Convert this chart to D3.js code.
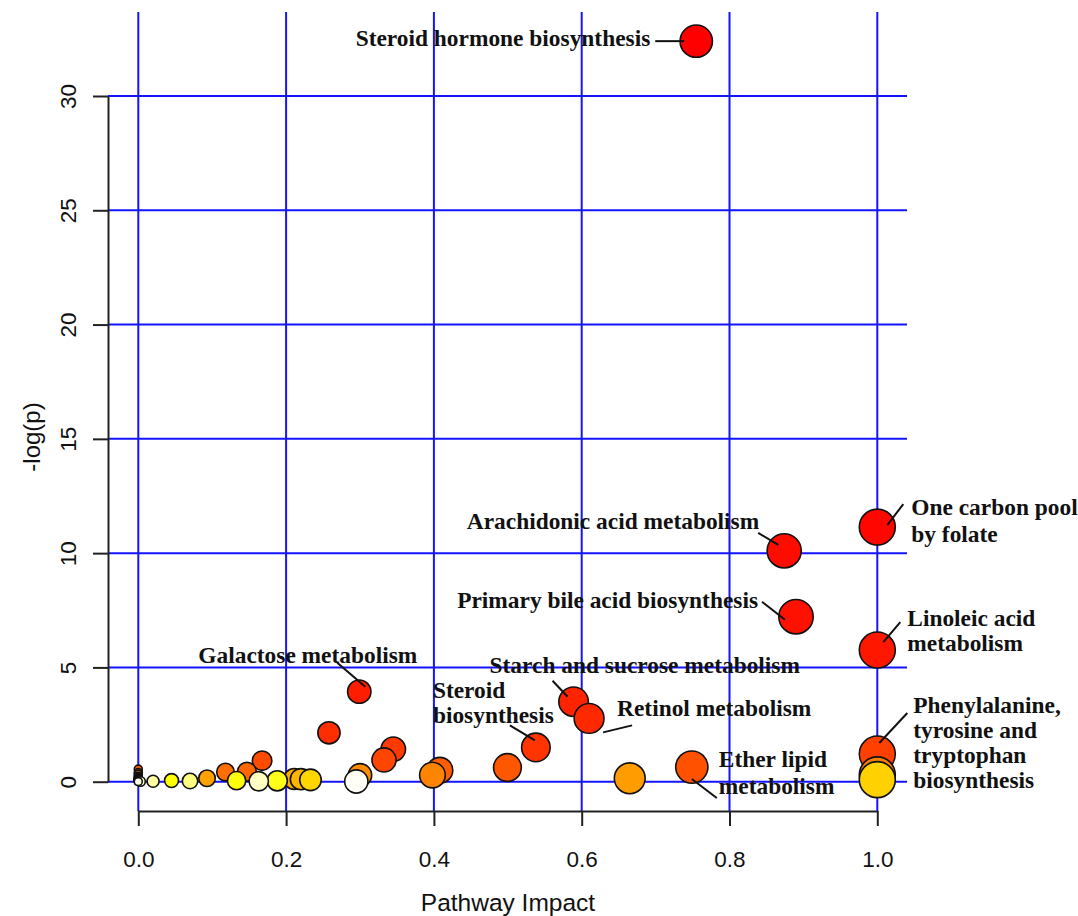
<!DOCTYPE html>
<html>
<head>
<meta charset="utf-8">
<script src="https://cdn.jsdelivr.net/npm/d3@7"></script>
<style>
  body { margin: 0; background: #fff; }
  svg text { fill: #111; }
</style>
</head>
<body>
<svg id="chart" width="1078" height="916"></svg>
<script>
// Pathway analysis results, ordered from most to least significant
const impact = [
  0.755, 1.0, 0.874, 0.890, 1.0, 0.299, 0.589, 0.610, 0.258, 0.538,
  0.345, 1.0, 0.3325, 0.1675, 0.749, 0.4995, 0.408, 0.0, 0.147, 0.118,
  0.0, 0.0, 1.0, 0.398, 0.30, 0.0, 0.0, 0.665, 0.093, 0.0,
  0.211, 0.22, 0.0, 0.0, 0.0, 0.0, 1.0, 0.233, 0.0, 0.0,
  0.0, 0.0, 0.0, 0.0, 0.045, 0.133, 0.188, 0.0, 0.0, 0.0,
  0.0, 0.0, 0.07, 0.0, 0.02, 0.0, 0.163, 0.003, 0.0, 0.295
];
const negLogP = [
  32.4, 11.14, 10.1, 7.22, 5.76, 3.94, 3.5, 2.77, 2.14, 1.50,
  1.42, 1.21, 0.95, 0.92, 0.64, 0.62, 0.50, 0.55, 0.44, 0.42,
  0.40, 0.33, 0.30, 0.29, 0.28, 0.24, 0.20, 0.15, 0.15, 0.14,
  0.12, 0.11, 0.11, 0.105, 0.10, 0.10, 0.09, 0.08, 0.08, 0.07,
  0.07, 0.06, 0.05, 0.05, 0.05, 0.045, 0.04, 0.04, 0.035, 0.03,
  0.03, 0.03, 0.03, 0.025, 0.02, 0.02, 0.02, 0.01, 0.005, 0.01
];
const xTicks = [0, 0.2, 0.4, 0.6, 0.8, 1.0];
const yTicks = [0, 5, 10, 15, 20, 25, 30];

// Named pathways and the row they belong to
const labelIndex = [0, 1, 2, 3, 4, 5, 6, 7, 9, 11, 14];
const labelText = [
  ["Steroid hormone biosynthesis"],
  ["One carbon pool", "by folate"],
  ["Arachidonic acid metabolism"],
  ["Primary bile acid biosynthesis"],
  ["Linoleic acid", "metabolism"],
  ["Galactose metabolism"],
  ["Starch and sucrose metabolism"],
  ["Retinol metabolism"],
  ["Steroid", "biosynthesis"],
  ["Phenylalanine,", "tyrosine and", "tryptophan", "biosynthesis"],
  ["Ether lipid", "metabolism"]
];

// Label placement relative to each point (pixels): text anchor, baseline offset, leader line
const labelLayout = [
  { dx: -46, dy: 5,   anchor: "end",   lh: 25,   lead: [-41, 0, -12, 0] },
  { dx: 34,  dy: -12, anchor: "start", lh: 26.7, lead: [26, -23, 10, -2] },
  { dx: -25, dy: -22, anchor: "end",   lh: 25,   lead: [-26, -18, -6, -6] },
  { dx: -38, dy: -9,  anchor: "end",   lh: 25,   lead: [-34, -15, -11, 3] },
  { dx: 30,  dy: -24, anchor: "start", lh: 25,   lead: [23, -28, 6, -8] },
  { dx: 58,  dy: -29, anchor: "end",   lh: 25,   lead: [-22, -29, 6, -5] },
  { dx: -84, dy: -29, anchor: "start", lh: 25,   lead: [-21, -21, -6, -5] },
  { dx: 28,  dy: -2,  anchor: "start", lh: 25,   lead: [14, 14, 43, 7] },
  { dx: -103, dy: -49, anchor: "start", lh: 25,  lead: [-26, -22, -1, -7] },
  { dx: 36,  dy: -41, anchor: "start", lh: 25,   lead: [30, -41, 2, -11] },
  { dx: 27,  dy: 0,   anchor: "start", lh: 26.6, lead: [0, 12, 25, 31] }
];

// R-style heat.colors: red -> yellow, then yellow -> white
function heatColors(n) {
  const j = Math.floor(n / 4), i = n - j, out = [];
  for (let k = 0; k < i; k++) {
    const h = i > 1 ? (k / (i - 1)) * 60 : 0;
    out.push(d3.hsl(h, 1, 0.5).formatHex());
  }
  for (let k = 0; k < j; k++) {
    const s0 = 1 - 1 / (2 * j), s1 = 1 / (2 * j);
    const s = j > 1 ? s0 + (s1 - s0) * k / (j - 1) : s0;
    // hsv(1/6, s, 1) -> rgb
    out.push(d3.rgb(255, 255, Math.round(255 * (1 - s))).formatHex());
  }
  return out;
}

const svg = d3.select("#chart");
const x = d3.scaleLinear().domain([0, 1]).range([138.3, 877.3]);
const y = d3.scaleLinear().domain([0, 30]).range([781.7, 96]);
const r = d3.scaleSqrt().domain([0, 1]).range([4, 18]);

const axisY0 = 811, axisX0 = 108;
const gridColor = "#1414ff";

// grid
svg.append("g").selectAll("line").data(xTicks).join("line")
  .attr("x1", d => x(d)).attr("x2", d => x(d))
  .attr("y1", 12).attr("y2", axisY0)
  .attr("stroke", gridColor).attr("stroke-width", 2);
svg.append("g").selectAll("line").data(yTicks).join("line")
  .attr("x1", axisX0).attr("x2", 907)
  .attr("y1", d => y(d)).attr("y2", d => y(d))
  .attr("stroke", gridColor).attr("stroke-width", 2);

// axes
const xAxis = svg.append("g").attr("transform", `translate(0,${axisY0})`)
  .call(d3.axisBottom(x).tickValues(xTicks).tickFormat(d3.format(".1f"))
    .tickSize(15).tickSizeOuter(0).tickPadding(25));
const yAxis = svg.append("g").attr("transform", `translate(${axisX0},0)`)
  .call(d3.axisLeft(y).tickValues(yTicks).tickFormat(d3.format("d"))
    .tickSize(15).tickSizeOuter(0));
yAxis.selectAll(".tick text")
  .attr("x", null).attr("dy", "0.35em")
  .attr("transform", "translate(-40,0) rotate(-90)")
  .attr("text-anchor", "middle");
[xAxis, yAxis].forEach(g => {
  g.selectAll("path, line").attr("stroke", "#222").attr("stroke-width", 2);
  g.selectAll("text").attr("font-family", "Liberation Sans, Arial, sans-serif")
    .attr("font-size", 22.5).attr("fill", "#111");
});

svg.append("text").attr("x", 508).attr("y", 911)
  .attr("text-anchor", "middle")
  .attr("font-family", "Liberation Sans, Arial, sans-serif").attr("font-size", 24.5)
  .text("Pathway Impact");
svg.append("text").attr("transform", "translate(40,437) rotate(-90)")
  .attr("text-anchor", "middle")
  .attr("font-family", "Liberation Sans, Arial, sans-serif").attr("font-size", 24)
  .text("-log(p)");

// points: most significant first so the paler circles sit on top
const colors = heatColors(negLogP.length);
const rows = impact.map((v, i) => ({ impact: v, p: negLogP[i], color: colors[i] }));
svg.append("g").selectAll("circle").data(rows).join("circle")
  .attr("cx", d => x(d.impact)).attr("cy", d => y(d.p))
  .attr("r", d => r(d.impact))
  .attr("fill", d => d.color)
  .attr("stroke", "#111").attr("stroke-width", 1.6);

// annotations
const ann = svg.append("g").attr("font-family", "Liberation Serif, Times New Roman, serif")
  .attr("font-weight", "bold").attr("font-size", 23.4);
labelIndex.forEach((idx, k) => {
  const px = x(impact[idx]), py = y(negLogP[idx]);
  const L = labelLayout[k];
  ann.append("line")
    .attr("x1", px + L.lead[0]).attr("y1", py + L.lead[1])
    .attr("x2", px + L.lead[2]).attr("y2", py + L.lead[3])
    .attr("stroke", "#111").attr("stroke-width", 2);
  const t = ann.append("text").attr("text-anchor", L.anchor);
  labelText[k].forEach((line, li) => {
    t.append("tspan").attr("x", px + L.dx).attr("y", py + L.dy + li * L.lh).text(line);
  });
});
</script>
</body>
</html>
